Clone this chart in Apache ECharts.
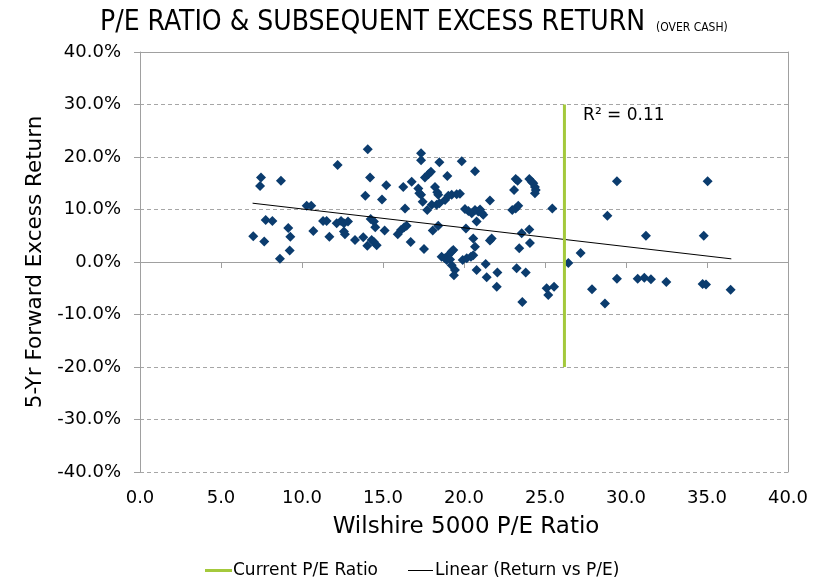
<!DOCTYPE html>
<html>
<head>
<meta charset="utf-8">
<script src="https://cdn.jsdelivr.net/npm/echarts@6/dist/echarts.min.js"></script>
<style>
html,body{margin:0;padding:0;background:#fff;}
#c{width:827px;height:579px;}
</style>
</head>
<body>
<div id="c"></div>
<script>
// P/E ratio (x) and 5-yr forward excess return in % (y)
const peRatio = [6.99,7.47,7.41,7.67,7.76,8.17,8.7,8.64,9.15,9.28,9.24,10.29,10.57,10.7,11.3,11.52,11.69,12.2,12.14,12.41,12.59,12.84,12.59,12.65,13.27,13.78,13.91,14.06,14.2,14.03,14.3,14.44,14.61,14.24,14.44,14.52,14.94,15.2,15.1,15.91,16.11,16.31,16.46,16.25,16.36,16.77,16.71,17.35,17.35,18.48,19.86,20.68,17.59,17.8,17.96,18.97,17.18,17.24,17.35,17.45,17.73,18.21,18.35,18.41,18.01,18.31,18.48,18.83,19.03,19.24,19.55,19.75,21.6,20.06,20.27,20.48,20.68,20.88,20.99,21.09,21.19,20.78,18.41,18.07,20.12,21.71,21.6,20.57,20.68,17.53,18.62,18.83,19.03,19.24,19.34,18.93,19.14,19.24,19.44,19.38,19.92,20.17,20.43,20.57,20.78,21.34,21.4,22.02,22.06,23.19,23.31,23.09,24.03,24.18,24.28,24.38,24.43,24.38,22.98,23.19,23.35,25.45,23.56,24.03,23.41,24.07,23.25,23.81,23.6,25.1,25.2,25.56,26.44,27.2,27.9,28.7,28.85,29.44,29.44,30.72,31.13,31.54,31.23,32.49,34.73,34.94,34.8,35.04,36.46];
const excessReturn = [4.9,16.1,14.5,3.9,8.0,7.8,15.5,0.6,6.5,4.8,2.2,10.7,10.7,5.9,7.8,7.8,4.8,18.5,7.4,7.8,7.4,7.7,5.8,5.3,4.2,4.7,12.6,21.5,16.1,3.1,4.2,3.8,3.2,8.2,7.7,6.6,11.9,14.6,6.0,5.3,6.1,6.6,6.9,14.3,10.2,15.3,3.8,20.7,19.4,19.0,19.2,17.3,16.1,16.7,17.2,16.4,14.0,13.1,12.8,11.5,9.9,14.3,13.3,12.8,10.9,10.9,11.2,11.8,12.6,12.8,12.9,13.0,11.7,10.1,9.7,9.3,9.9,9.6,10.0,9.4,9.0,7.7,6.9,6.0,6.4,4.5,4.1,4.5,2.9,2.5,1.0,0.7,1.3,2.0,2.3,0.4,0.5,-0.6,-1.5,-2.5,0.4,0.7,1.0,1.3,-1.5,-0.4,-2.9,-4.7,-2.0,15.8,15.5,13.7,15.8,15.3,15.0,14.3,13.7,13.1,9.9,10.2,10.7,10.2,5.5,6.2,2.6,3.6,-1.2,-2.0,-7.6,-5.0,-6.3,-4.7,-0.2,1.7,-5.2,-7.9,8.8,15.4,-3.2,-3.2,-3.0,-3.3,5.0,-3.8,-4.2,-4.3,5.0,15.4,-5.3];
// Current P/E marker line
const currentPE = [26.2, 26.2];
const currentPERange = [-20, 30];
// Linear trend endpoints
const trendX = [6.95, 36.5];
const trendY = [11.2, 0.6];
// Axis ticks
const xTicks = {min: 0, max: 40, interval: 5};
const yTicks = {min: -40, max: 40, interval: 10};
const r2Text = 'R² = 0.11';
const r2Pos = [27.35, 27.8];

const scatterData = peRatio.map((x, i) => [x, excessReturn[i]]);
const peLine = currentPE.map((x, i) => [x, currentPERange[i]]);
const trendLine = trendX.map((x, i) => [x, trendY[i]]);

const AX = '#a0a0a0';
const FONT = 'DejaVu Sans';
const TFONT = "'Liberation Sans Narrow', 'DejaVu Sans Condensed', sans-serif";
const chart = echarts.init(document.getElementById('c'));
chart.setOption({
  animation: false,
  backgroundColor: '#fff',
  title: {
    left: 95, top: 4,
    text: '{a|P/E RATIO & SUBSEQUENT EXCESS RETURN} {b|(OVER CASH)}',
    textStyle: {
      rich: {
        a: {fontFamily: TFONT, fontSize: 28, color: '#000', fontWeight: 'normal'},
        b: {fontFamily: TFONT, fontSize: 12, color: '#000', fontWeight: 'normal', padding: [10, 0, 0, 6]}
      }
    }
  },
  grid: {left: 140, right: 39, top: 52, bottom: 107},
  xAxis: [
    {
      type: 'value', min: xTicks.min, max: xTicks.max, interval: xTicks.interval,
      position: 'bottom',
      name: 'Wilshire 5000 P/E Ratio', nameLocation: 'middle', nameGap: 44,
      nameTextStyle: {fontFamily: FONT, fontSize: 23, color: '#000', padding: [0, 0, 0, 4]},
      axisLine: {show: false, onZero: false},
      axisTick: {show: false},
      axisLabel: {fontFamily: FONT, fontSize: 18, color: '#000', margin: 17, formatter: v => v.toFixed(1)},
      splitLine: {show: false}
    },
    {
      type: 'value', min: xTicks.min, max: xTicks.max, interval: xTicks.interval,
      position: 'top',
      axisLine: {show: true, onZero: true, lineStyle: {color: AX, width: 1}},
      axisTick: {show: true, inside: true, length: 6, lineStyle: {color: AX}},
      axisLabel: {show: false},
      splitLine: {show: false}
    }
  ],
  yAxis: [
    {
      type: 'value', min: yTicks.min, max: yTicks.max, interval: yTicks.interval,
      position: 'left',
      name: '5-Yr Forward Excess Return', nameLocation: 'middle', nameGap: 92,
      nameTextStyle: {fontFamily: FONT, fontSize: 21.5, color: '#000'},
      axisLine: {show: true, onZero: false, lineStyle: {color: AX, width: 1}},
      axisTick: {show: true, length: 6, lineStyle: {color: AX}},
      axisLabel: {fontFamily: FONT, fontSize: 18, color: '#000', margin: 19, formatter: v => v.toFixed(1) + '%'},
      splitLine: {show: true, lineStyle: {color: '#a6a6a6', type: [4, 3], width: 1}}
    },
    {
      type: 'value', min: yTicks.min, max: yTicks.max, interval: yTicks.interval,
      position: 'right',
      axisLine: {show: true, onZero: false, lineStyle: {color: AX, width: 1}},
      axisTick: {show: false}, axisLabel: {show: false}, splitLine: {show: false}
    }
  ],
  legend: [
    {
      data: ['Current P/E Ratio'], left: 200, top: 557, icon: 'rect',
      itemWidth: 27, itemHeight: 3, itemGap: 0,
      textStyle: {fontFamily: FONT, fontSize: 17, color: '#000', padding: [0, 0, 0, -4]}
    },
    {
      data: ['Linear (Return vs P/E)'], left: 403, top: 557, icon: 'rect',
      itemWidth: 25, itemHeight: 1, itemGap: 0,
      textStyle: {fontFamily: FONT, fontSize: 17, color: '#000', padding: [0, 0, 0, -3]}
    }
  ],
  series: [
    {
      name: 'Return vs P/E', type: 'scatter', xAxisIndex: 0, yAxisIndex: 0,
      symbol: 'diamond', symbolSize: 10,
      itemStyle: {color: '#0b3c6e', opacity: 1},
      data: scatterData,
      z: 3,
      markLine: {
        silent: true, symbol: 'none', label: {show: false},
        lineStyle: {color: AX, type: 'solid', width: 1},
        data: [{yAxis: yTicks.max}]
      }
    },
    {
      name: 'Linear (Return vs P/E)', type: 'line', xAxisIndex: 0, yAxisIndex: 0,
      symbol: 'none', data: trendLine,
      lineStyle: {color: '#000', width: 1}, itemStyle: {color: '#000'}, z: 4
    },
    {
      name: 'Current P/E Ratio', type: 'line', xAxisIndex: 0, yAxisIndex: 0,
      symbol: 'none', data: peLine,
      lineStyle: {color: '#a4c93c', width: 3}, itemStyle: {color: '#a4c93c'}, z: 5
    }
  ]
});
const p = chart.convertToPixel({xAxisIndex: 0, yAxisIndex: 0}, r2Pos);
chart.setOption({
  graphic: [{
    type: 'text', x: p[0], y: p[1],
    style: {text: r2Text, fontFamily: FONT, fontSize: 17, fill: '#000', textAlign: 'left', textVerticalAlign: 'middle'}
  }]
});
</script>
</body>
</html>
